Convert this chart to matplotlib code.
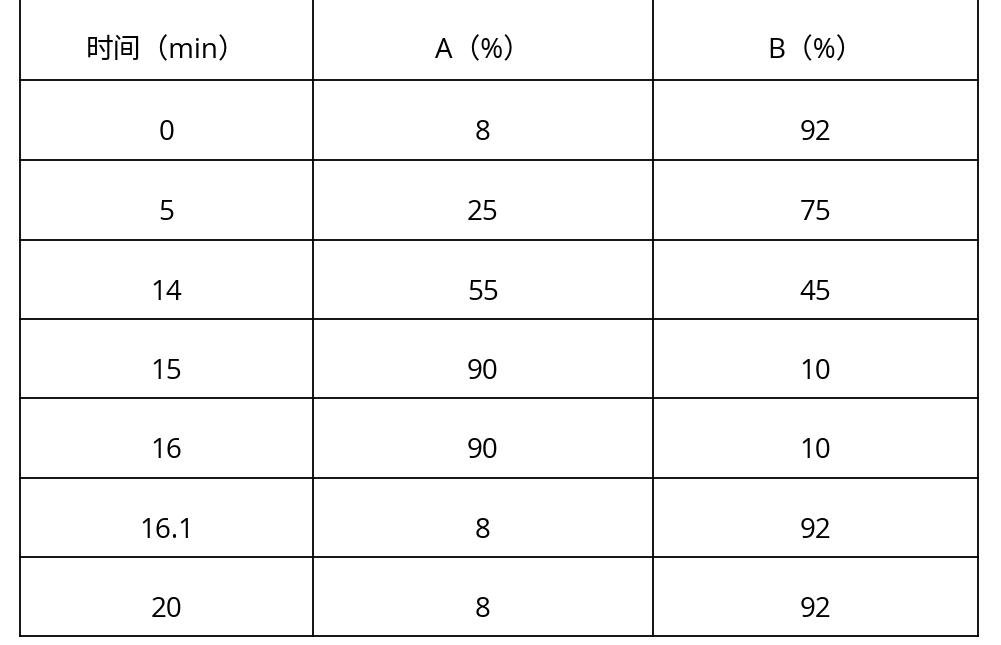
import matplotlib
matplotlib.use("Agg")
import matplotlib.pyplot as plt

headers = ["时间（min）", "A（%）", "B（%）"]
times = ["0", "5", "14", "15", "16", "16.1", "20"]
a_pct = ["8", "25", "55", "90", "90", "8", "8"]
b_pct = ["92", "75", "45", "10", "10", "92", "92"]

col_edges = [20, 313, 653, 978]
row_edges = [0, 80, 160, 240, 319, 398, 478, 557, 636]

fig = plt.figure(figsize=(10.01, 6.45), dpi=100)
ax = fig.add_axes([0, 0, 1, 1])
ax.set_xlim(0, 1001)
ax.set_ylim(645, 0)
ax.axis("off")

for y in row_edges[1:]:
    ax.plot([col_edges[0], col_edges[-1]], [y, y], color="black", lw=1.3)
for x in col_edges:
    ax.plot([x, x], [row_edges[0], row_edges[-1]], color="black", lw=1.3)

fam = ["Open Sans", "Noto Sans CJK SC", "DejaVu Sans"]
rows = [headers] + [list(r) for r in zip(times, a_pct, b_pct)]
for i, row in enumerate(rows):
    yc = (row_edges[i] + row_edges[i + 1]) / 2 + (8 if i == 0 else 10)
    for j, txt in enumerate(row):
        xc = (col_edges[j] + col_edges[j + 1]) / 2
        ax.text(xc, yc, txt, ha="center", va="center_baseline", fontsize=20, family=fam)

fig.savefig("out.png", dpi=100)
